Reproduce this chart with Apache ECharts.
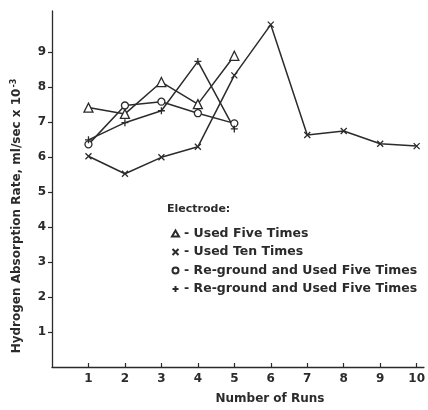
<!DOCTYPE html>
<html>
<head>
<meta charset="utf-8">
<script src="https://cdn.jsdelivr.net/npm/echarts@6/dist/echarts.min.js"></script>
<style>
  html, body { margin: 0; padding: 0; background: #fff; }
  #chart { width: 428px; height: 410px; }
</style>
</head>
<body>
<div id="chart"></div>
<script>
// Runs (x axis) for the five-run electrodes and the ten-run electrode
var runsFive = [1, 2, 3, 4, 5];
var runsTen = [1, 2, 3, 4, 5, 6, 7, 8, 9, 10];

// Hydrogen absorption rate, ml/sec x 10^-3
var usedFive = [7.41, 7.23, 8.14, 7.51, 8.89];
var usedTen = [6.02, 5.52, 5.99, 6.29, 8.33, 9.78, 6.63, 6.74, 6.38, 6.31];
var regroundA = [6.36, 7.47, 7.58, 7.25, 6.96];
var regroundB = [6.49, 6.98, 7.32, 8.73, 6.80];

// Tick labels
var xTicks = [1, 2, 3, 4, 5, 6, 7, 8, 9, 10];
var yTicks = [1, 2, 3, 4, 5, 6, 7, 8, 9];

var legendNames = [
  'Used Five Times',
  'Used Ten Times',
  'Re-ground and Used Five Times',
  'Re-ground and Used Five Times (2)'
];

function pairs(xs, ys) {
  return xs.map(function (x, i) { return [x, ys[i]]; });
}

var ink = '#2b2b2b';
var font = 'DejaVu Sans';
var crossPath = 'path://M0,0L10,10M10,0L0,10';
var plusPath = 'path://M5,0L5,10M0,5L10,5';

function lineSeries(name, data, symbol, size) {
  return {
    type: 'line',
    name: name,
    data: data,
    symbol: symbol,
    symbolSize: size,
    showAllSymbol: true,
    lineStyle: { color: ink, width: 1.5 },
    itemStyle: { color: '#fff', borderColor: ink, borderWidth: 1.3 },
    emphasis: { disabled: true },
    animation: false,
    z: 3
  };
}

var chart = echarts.init(document.getElementById('chart'), null, { renderer: 'canvas' });

chart.setOption({
  backgroundColor: '#fff',
  animation: false,
  grid: { left: 52, right: 4, top: 11, bottom: 37, containLabel: false },
  title: {
    text: 'Electrode:',
    left: 167,
    top: 204,
    padding: 0,
    textStyle: { fontFamily: font, fontSize: 11, fontWeight: 'bold', color: ink }
  },
  legend: {
    orient: 'vertical',
    left: 171,
    top: 227,
    padding: 0,
    itemWidth: 7,
    itemHeight: 6,
    itemGap: 5.5,
    selectedMode: false,
    data: [
      { name: legendNames[0], icon: 'triangle' },
      { name: legendNames[1], icon: crossPath },
      { name: legendNames[2], icon: 'circle' },
      { name: legendNames[3], icon: plusPath }
    ],
    formatter: function (name) {
      return '- ' + name.replace(' (2)', '');
    },
    textStyle: { fontFamily: font, fontSize: 12.5, fontWeight: 'bold', color: ink }
  },
  xAxis: {
    type: 'value',
    min: 0,
    max: 10.2,
    interval: 1,
    name: 'Number of Runs',
    nameLocation: 'middle',
    nameGap: 26,
    nameTextStyle: { fontFamily: font, fontSize: 12, fontWeight: 'bold', color: ink, padding: [0, 0, 0, 64] },
    axisLine: { lineStyle: { color: ink, width: 1.3 } },
    axisTick: { inside: true, length: 4, customValues: xTicks, lineStyle: { color: ink, width: 1.2 } },
    axisLabel: { customValues: xTicks, margin: 6, fontFamily: font, fontSize: 12, fontWeight: 'bold', color: ink },
    splitLine: { show: false }
  },
  yAxis: {
    type: 'value',
    min: 0,
    max: 10.17,
    interval: 1,
    name: 'Hydrogen Absorption Rate, ml/sec x 10{sup|-3}',
    nameLocation: 'middle',
    nameGap: 28,
    nameRotate: 90,
    nameTextStyle: {
      fontFamily: font, fontSize: 12, fontWeight: 'bold', color: ink,
      padding: [0, 54, 0, 0],
      rich: {
        sup: { fontFamily: font, fontSize: 8, fontWeight: 'bold', color: ink, verticalAlign: 'top', padding: [0, 0, 6, 1] }
      }
    },
    axisLine: { show: true, lineStyle: { color: ink, width: 1.3 } },
    axisTick: { show: true, length: 4, customValues: yTicks, lineStyle: { color: ink, width: 1.2 } },
    axisLabel: { customValues: yTicks, margin: 6, fontFamily: font, fontSize: 12, fontWeight: 'bold', color: ink },
    splitLine: { show: false }
  },
  series: [
    lineSeries(legendNames[0], pairs(runsFive, usedFive), 'triangle', 9),
    lineSeries(legendNames[1], pairs(runsTen, usedTen), crossPath, 6),
    lineSeries(legendNames[2], pairs(runsFive, regroundA), 'circle', 7),
    lineSeries(legendNames[3], pairs(runsFive, regroundB), plusPath, 7)
  ]
});
</script>
</body>
</html>
